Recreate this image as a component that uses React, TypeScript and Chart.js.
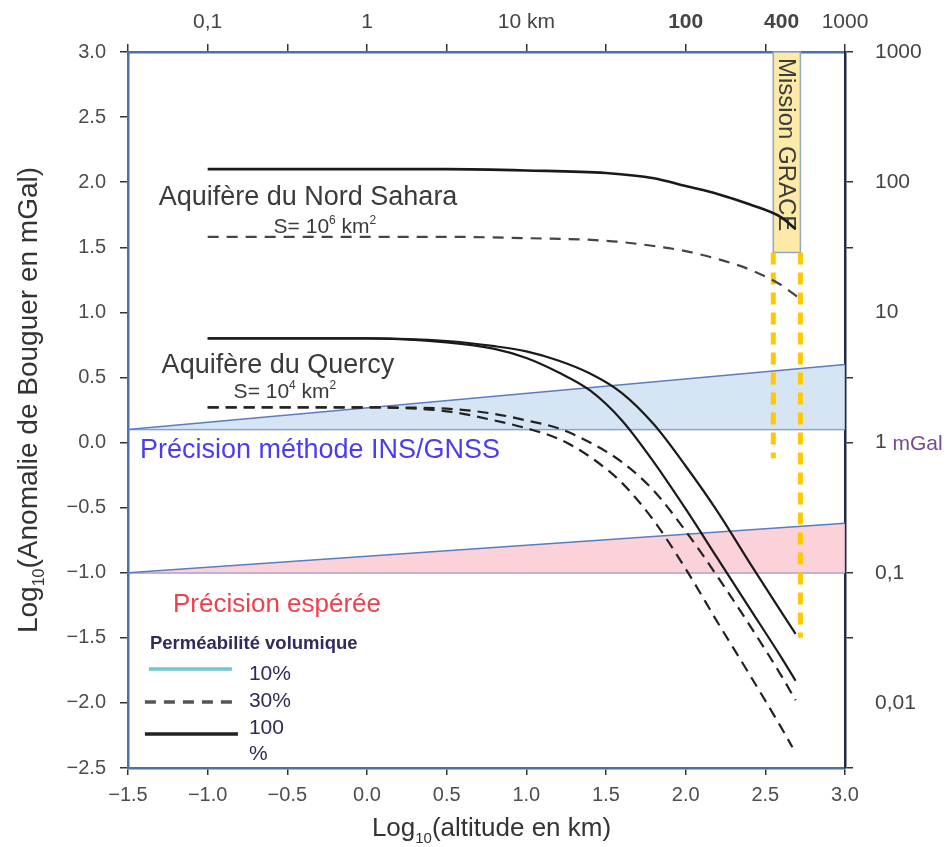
import React, { useEffect, useRef } from 'react';
import { Chart, registerables } from 'chart.js';

Chart.register(...registerables);

const FONT = "'Liberation Sans', Arial, Helvetica, sans-serif";

// ---- data (x = log10 altitude in km, y = log10 anomaly in mGal) ----
const xSaharaSolid = [-1.0, 0.0, 0.5, 1.0, 1.5, 1.8, 2.0, 2.2, 2.4, 2.6, 2.69];
const saharaSolid = [2.10, 2.10, 2.10, 2.09, 2.07, 2.03, 1.97, 1.91, 1.83, 1.73, 1.64];
const xSaharaDashed = [-1.0, 0.0, 0.5, 1.0, 1.5, 1.8, 2.0, 2.2, 2.4, 2.6, 2.7];
const saharaDashed = [1.58, 1.58, 1.58, 1.57, 1.55, 1.51, 1.47, 1.41, 1.33, 1.21, 1.12];

const xQuercy = [-1.0, 0.0, 0.5, 0.8, 1.0, 1.2, 1.4, 1.6, 1.8, 2.0, 2.2, 2.4, 2.6, 2.69];
const quercySolidA = [0.80, 0.80, 0.78, 0.74, 0.70, 0.63, 0.53, 0.38, 0.14, -0.18, -0.53, -0.92, -1.30, -1.47];
const quercySolidB = [0.80, 0.80, 0.77, 0.72, 0.65, 0.54, 0.40, 0.17, -0.15, -0.51, -0.89, -1.27, -1.65, -1.83];
const quercyDashedA = [0.27, 0.27, 0.26, 0.22, 0.17, 0.11, 0.00, -0.15, -0.37, -0.68, -1.03, -1.40, -1.79, -1.98];
const xQuercyDashedB = [-1.0, 0.0, 0.5, 0.8, 1.0, 1.2, 1.4, 1.6, 1.8, 2.0, 2.2, 2.4, 2.6, 2.67];
const quercyDashedB = [0.27, 0.27, 0.24, 0.17, 0.11, 0.03, -0.11, -0.31, -0.60, -0.97, -1.38, -1.78, -2.19, -2.34];

const bandX = [-1.5, 3.0];
const insUpper = [0.1, 0.6];
const insLower = [0.1, 0.1];
const hopedUpper = [-1.0, -0.62];
const hopedLower = [-1.0, -1.0];

const graceX = [2.55, 2.72];
const graceTop = 3.0;
const graceBottom = 1.46;
const graceLeftEnd = -0.12;
const graceRightEnd = -1.5;

const xTicks = [-1.5, -1.0, -0.5, 0.0, 0.5, 1.0, 1.5, 2.0, 2.5, 3.0];
const topLabelValues = [-1, 0, 1, 2, Math.log10(400), 3];
const topLabels = ['0,1', '1', '10 km', '100', '400', '1000'];
const topBold = ['100', '400'];

const rightLabelValues = [3, 2, 1, 0, -1, -2];
const rightLabels = ['1000', '100', '10', '1', '0,1', '0,01'];
const rightTickMarks = [3, 2, 1.5, 0.5, 0, -1, -1.5, -2.5];

const legendTitle = 'Perméabilité volumique';
const legendLabels = ['10%', '30%', '100', '%'];

const pts = (xs: number[], ys: number[]) => xs.map((x, i) => ({ x, y: ys[i] }));
const near = (a: number, b: number) => Math.abs(a - b) < 1e-6;
const fmt = (v: number) => (v < 0 ? '\u2212' : '') + Math.abs(v).toFixed(1);

const AXIS_BLUE = '#4d70a8';
const TICK_COLOR = '#333333';
const BAND_LINE = '#5a7cc0';

type Part = { t: string; size: number; weight?: string; dy?: number; color: string };

function drawRich(ctx: CanvasRenderingContext2D, parts: Part[], x: number, y: number, align: 'center' | 'left') {
  const widths: number[] = [];
  let total = 0;
  for (const p of parts) {
    ctx.font = `${p.weight || 'normal'} ${p.size}px ${FONT}`;
    const w = ctx.measureText(p.t).width;
    widths.push(w);
    total += w;
  }
  let cx = align === 'center' ? x - total / 2 : x;
  ctx.textAlign = 'left';
  ctx.textBaseline = 'alphabetic';
  parts.forEach((p, i) => {
    ctx.font = `${p.weight || 'normal'} ${p.size}px ${FONT}`;
    ctx.fillStyle = p.color;
    ctx.fillText(p.t, cx, y + (p.dy || 0));
    cx += widths[i];
  });
}

const lineDs = (label: string, data: any[], color: string, width: number, dash: number[], order: number) => ({
  label,
  data,
  borderColor: color,
  backgroundColor: color,
  borderWidth: width,
  borderDash: dash,
  pointRadius: 0,
  fill: false,
  tension: 0.4,
  cubicInterpolationMode: 'monotone',
  order,
});

const annotPlugin = {
  id: 'annot',
  beforeDatasetsDraw(chart: any) {
    const { ctx, scales } = chart;
    const x = scales.x, y = scales.y;
    const l = x.getPixelForValue(graceX[0]);
    const r = x.getPixelForValue(graceX[1]);
    const t = y.getPixelForValue(graceTop);
    const b = y.getPixelForValue(graceBottom);
    ctx.save();
    ctx.fillStyle = '#fde9a8';
    ctx.fillRect(l, t, r - l, b - t);
    ctx.strokeStyle = '#8fa7c8';
    ctx.lineWidth = 1.5;
    ctx.strokeRect(l, t, r - l, b - t);
    ctx.translate((l + r) / 2, t + 6);
    ctx.rotate(Math.PI / 2);
    ctx.font = `24px ${FONT}`;
    ctx.fillStyle = '#3d3d3d';
    ctx.textAlign = 'left';
    ctx.textBaseline = 'middle';
    ctx.fillText('Mission GRACE', 0, 1);
    ctx.restore();
  },
  afterDraw(chart: any) {
    const { ctx, scales, chartArea } = chart;
    const x = scales.x, y = scales.y;
    const px = (v: number) => x.getPixelForValue(v);
    const py = (v: number) => y.getPixelForValue(v);
    ctx.save();
    const dark = '#3a3a3a';
    // Aquifer labels
    drawRich(ctx, [{ t: 'Aquifère du Nord Sahara', size: 27, color: dark }], px(-0.37), py(1.894) + 9, 'center');
    drawRich(ctx, [
      { t: 'S= 10', size: 21, color: dark },
      { t: '6', size: 12, dy: -9, color: dark },
      { t: ' km', size: 21, color: dark },
      { t: '2', size: 12, dy: -9, color: dark },
    ], px(-0.264), py(1.663) + 7, 'center');
    drawRich(ctx, [{ t: 'Aquifère du Quercy', size: 27, color: dark }], px(-0.559), py(0.603) + 9, 'center');
    drawRich(ctx, [
      { t: 'S= 10', size: 21, color: dark },
      { t: '4', size: 12, dy: -9, color: dark },
      { t: ' km', size: 21, color: dark },
      { t: '2', size: 12, dy: -9, color: dark },
    ], px(-0.515), py(0.396) + 7, 'center');
    drawRich(ctx, [{ t: 'Précision méthode INS/GNSS', size: 27, color: '#4b3cf0' }], px(-0.295), py(-0.049) + 9, 'center');
    drawRich(ctx, [{ t: 'Précision espérée', size: 26, color: '#f0404c' }], px(-0.565), py(-1.233) + 9, 'center');

    // legend
    const lx = px(-1.375);
    const ly = py(-1.54);
    const legColor = '#33295a';
    drawRich(ctx, [{ t: legendTitle, size: 18.5, weight: 'bold', color: legColor }], lx + 2, ly + 6, 'left');
    ctx.lineWidth = 3.5;
    ctx.strokeStyle = '#6ec6cf';
    ctx.setLineDash([]);
    ctx.beginPath(); ctx.moveTo(lx + 1, ly + 26); ctx.lineTo(lx + 84, ly + 26); ctx.stroke();
    ctx.strokeStyle = '#555555';
    ctx.setLineDash([11, 8]);
    ctx.beginPath(); ctx.moveTo(lx - 3, ly + 59); ctx.lineTo(lx + 84, ly + 59); ctx.stroke();
    ctx.setLineDash([]);
    ctx.strokeStyle = '#222222';
    ctx.beginPath(); ctx.moveTo(lx - 3, ly + 91); ctx.lineTo(lx + 90, ly + 91); ctx.stroke();
    const tx = lx + 101;
    drawRich(ctx, [{ t: legendLabels[0], size: 21, color: legColor }], tx, ly + 37, 'left');
    drawRich(ctx, [{ t: legendLabels[1], size: 21, color: legColor }], tx, ly + 64, 'left');
    drawRich(ctx, [{ t: legendLabels[2], size: 21, color: legColor }], tx, ly + 91, 'left');
    drawRich(ctx, [{ t: legendLabels[3], size: 21, color: legColor }], tx, ly + 117, 'left');

    // "mGal" after right-axis label "1"
    const yr = scales.yRight;
    ctx.font = `21px ${FONT}`;
    const w1 = ctx.measureText('1 ').width;
    drawRich(ctx, [{ t: 'mGal', size: 21, color: '#7a4a8c' }], yr.left + 30 + w1, yr.getPixelForValue(0) + 7, 'left');

    // axis titles
    const tc = '#333333';
    drawRich(ctx, [
      { t: 'Log', size: 26, color: tc },
      { t: '10', size: 15, dy: 7, color: tc },
      { t: '(altitude en km)', size: 26, color: tc },
    ], (chartArea.left + chartArea.right) / 2 + 5, 836, 'center');
    ctx.translate(37, 400);
    ctx.rotate(-Math.PI / 2);
    drawRich(ctx, [
      { t: 'Log', size: 28, color: tc },
      { t: '10', size: 16, dy: 7, color: tc },
      { t: '(Anomalie de Bouguer en mGal)', size: 28, color: tc },
    ], 0, 0, 'center');
    ctx.restore();
  },
};

export default function App() {
  const ref = useRef<HTMLCanvasElement>(null);
  useEffect(() => {
    if (!ref.current) return;
    const allTop = [...xTicks, topLabelValues[4]].sort((a, b) => a - b);
    const allRight = Array.from(new Set([...rightLabelValues, ...rightTickMarks])).sort((a, b) => a - b);
    const chart = new Chart(ref.current, {
      type: 'line',
      data: {
        datasets: [
          { label: 'INS haut', data: pts(bandX, insUpper), borderColor: BAND_LINE, borderWidth: 1.5, pointRadius: 0, tension: 0, fill: { target: 1 }, backgroundColor: 'rgba(204,222,240,0.8)', order: 20 } as any,
          { label: 'INS bas', data: pts(bandX, insLower), borderColor: BAND_LINE, borderWidth: 1.5, pointRadius: 0, tension: 0, fill: false, order: 21 },
          { label: 'Espérée haut', data: pts(bandX, hopedUpper), borderColor: BAND_LINE, borderWidth: 1.5, pointRadius: 0, tension: 0, fill: { target: 3 }, backgroundColor: 'rgba(250,202,210,0.85)', order: 22 } as any,
          { label: 'Espérée bas', data: pts(bandX, hopedLower), borderColor: BAND_LINE, borderWidth: 1.5, pointRadius: 0, tension: 0, fill: false, order: 23 },
          { label: 'GRACE g', data: pts([graceX[0], graceX[0]], [graceBottom, graceLeftEnd]), borderColor: '#ffc800', borderWidth: 5, borderDash: [12, 8], pointRadius: 0, fill: false, order: 10 },
          { label: 'GRACE d', data: pts([graceX[1], graceX[1]], [graceBottom, graceRightEnd]), borderColor: '#ffc800', borderWidth: 5, borderDash: [12, 8], pointRadius: 0, fill: false, order: 11 },
          lineDs('Sahara 100%', pts(xSaharaSolid, saharaSolid), '#1a1a1a', 2.6, [], 1) as any,
          lineDs('Sahara 30%', pts(xSaharaDashed, saharaDashed), '#444444', 2.2, [11, 8], 2) as any,
          lineDs('Quercy 100% a', pts(xQuercy, quercySolidA), '#1a1a1a', 2.2, [], 3) as any,
          lineDs('Quercy 100% b', pts(xQuercy, quercySolidB), '#1a1a1a', 2.2, [], 4) as any,
          lineDs('Quercy 30% a', pts(xQuercy, quercyDashedA), '#222222', 2.2, [11, 7], 5) as any,
          lineDs('Quercy 30% b', pts(xQuercyDashedB, quercyDashedB), '#222222', 2.2, [11, 7], 6) as any,
        ],
      },
      options: {
        responsive: false,
        maintainAspectRatio: false,
        animation: false,
        events: [],
        layout: { padding: 0 },
        plugins: { legend: { display: false }, tooltip: { enabled: false }, title: { display: false } },
        scales: {
          x: {
            type: 'linear', position: 'bottom', min: -1.5, max: 3,
            afterFit: (s: any) => { s.height = 79; },
            afterBuildTicks: (s: any) => { s.ticks = xTicks.map((v) => ({ value: v })); },
            ticks: { color: '#4d4d4d', font: { family: FONT, size: 20 }, padding: 8, autoSkip: false, maxRotation: 0, minRotation: 0, callback: (v: any) => fmt(Number(v)) },
            grid: { drawOnChartArea: false, drawTicks: true, tickLength: 7, color: TICK_COLOR, lineWidth: 1.5 },
            border: { display: true, color: AXIS_BLUE, width: 2.5 },
          },
          xTop: {
            type: 'linear', position: 'top', min: -1.5, max: 3,
            afterFit: (s: any) => { s.height = 52; },
            afterBuildTicks: (s: any) => { s.ticks = allTop.map((v) => ({ value: v })); },
            ticks: {
              color: '#444444', padding: 9, autoSkip: false, maxRotation: 0, minRotation: 0,
              font: (c: any) => {
                const i = topLabelValues.findIndex((v) => near(v, c.tick ? c.tick.value : NaN));
                return { family: FONT, size: 21, weight: i >= 0 && topBold.includes(topLabels[i]) ? 'bold' : 'normal' };
              },
              callback: (v: any) => {
                const i = topLabelValues.findIndex((t) => near(t, Number(v)));
                return i >= 0 ? topLabels[i] : '';
              },
            },
            grid: {
              drawOnChartArea: false, drawTicks: true, tickLength: 8, lineWidth: 1.5,
              color: (c: any) => (c.tick && xTicks.some((v) => near(v, c.tick.value)) ? TICK_COLOR : 'rgba(0,0,0,0)'),
            },
            border: { display: true, color: AXIS_BLUE, width: 2.5 },
          },
          y: {
            type: 'linear', position: 'left', min: -2.5, max: 3,
            afterFit: (s: any) => { s.width = 128; },
            ticks: { stepSize: 0.5, color: '#4d4d4d', font: { family: FONT, size: 20 }, padding: 14, autoSkip: false, callback: (v: any) => fmt(Number(v)) },
            grid: { drawOnChartArea: false, drawTicks: true, tickLength: 8, color: TICK_COLOR, lineWidth: 1.5 },
            border: { display: true, color: AXIS_BLUE, width: 2.5 },
          },
          yRight: {
            type: 'linear', position: 'right', min: -2.5, max: 3,
            afterFit: (s: any) => { s.width = 105; },
            afterBuildTicks: (s: any) => { s.ticks = allRight.map((v) => ({ value: v })); },
            ticks: {
              color: '#444444', font: { family: FONT, size: 21 }, padding: 22, autoSkip: false,
              callback: (v: any) => {
                const i = rightLabelValues.findIndex((t) => near(t, Number(v)));
                return i >= 0 ? rightLabels[i] : '';
              },
            },
            grid: {
              drawOnChartArea: false, drawTicks: true, tickLength: 8, lineWidth: 1.5,
              color: (c: any) => (c.tick && rightTickMarks.some((v) => near(v, c.tick.value)) ? TICK_COLOR : 'rgba(0,0,0,0)'),
            },
            border: { display: true, color: '#1f2a44', width: 2.5 },
          },
        },
      } as any,
      plugins: [annotPlugin],
    });
    return () => chart.destroy();
  }, []);
  return (
    <div style={{ position: 'absolute', left: 0, top: 0, width: 950, height: 847, background: '#ffffff' }}>
      <canvas ref={ref} width={950} height={847} style={{ display: 'block' }} />
    </div>
  );
}
